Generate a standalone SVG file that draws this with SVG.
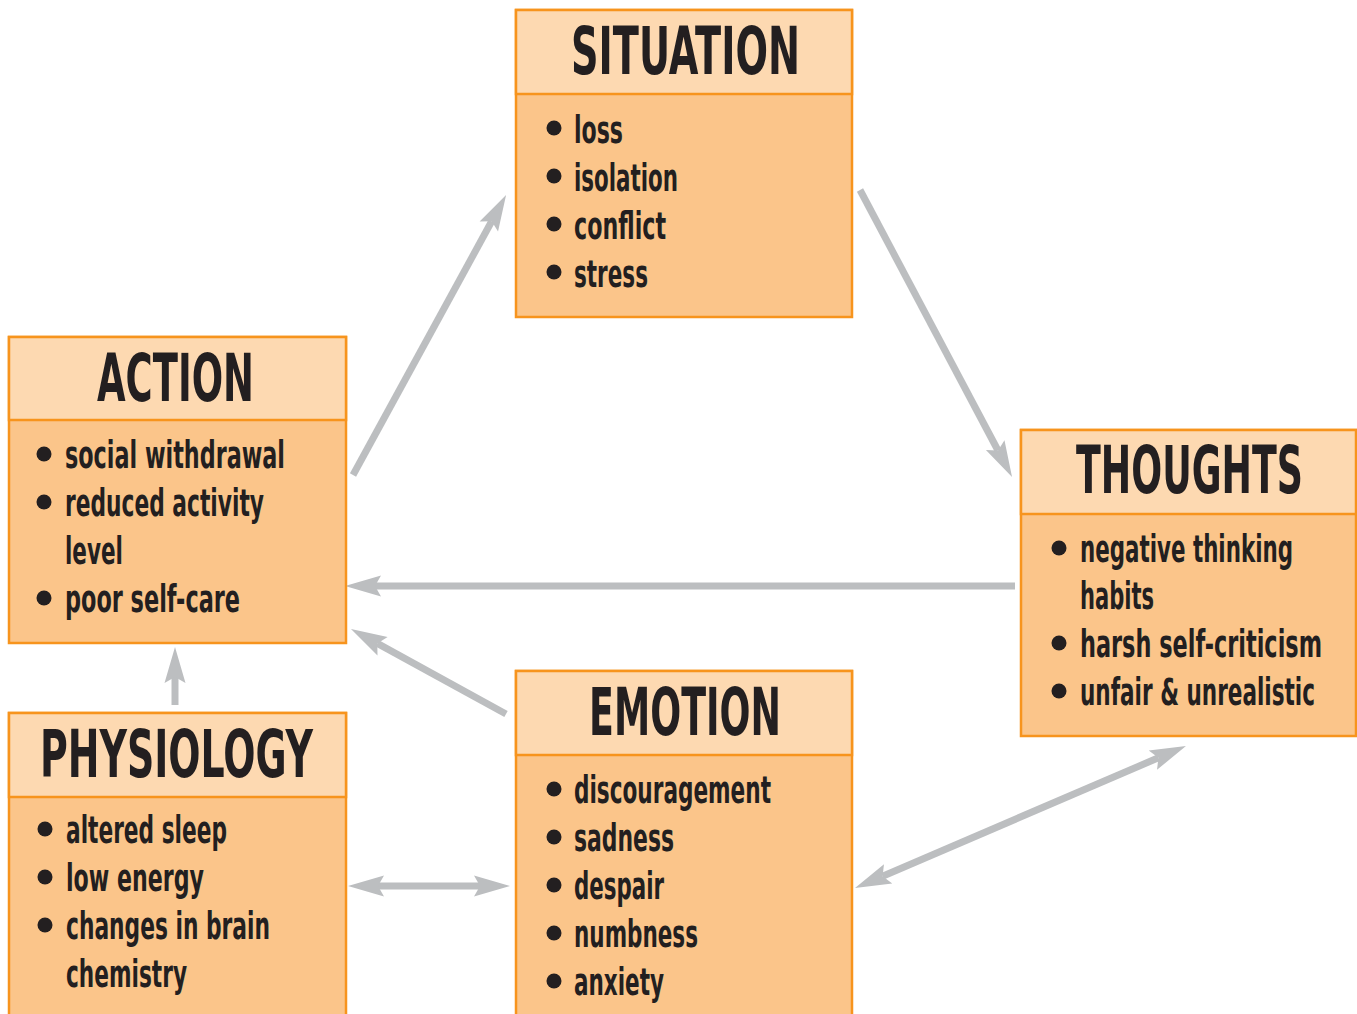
<svg xmlns="http://www.w3.org/2000/svg" width="1357" height="1014" viewBox="0 0 1357 1014">
<defs>
<style>
.box{fill:#FBC58A;stroke:#F7941D;stroke-width:2.5}
.hdr{fill:#FDD9B1;stroke:#F7941D;stroke-width:2.5}
.title{font-family:"DejaVu Sans Condensed","Liberation Sans Narrow","DejaVu Sans",sans-serif;font-weight:bold;font-size:66px;fill:#231F20}
.item{font-family:"DejaVu Sans Condensed","Liberation Sans Narrow","DejaVu Sans",sans-serif;font-weight:bold;font-size:37px;fill:#231F20}
.dot{fill:#231F20}
.conn{stroke:#BCBEC0;stroke-width:7;fill:none;marker-end:url(#ah)}
.both{marker-start:url(#ah2)}
</style>
<marker id="ah" markerUnits="userSpaceOnUse" viewBox="-8 -12 40 24" refX="0" refY="0" markerWidth="40" markerHeight="24" orient="auto" overflow="visible">
<path d="M30,0 L-6,-10.5 L0,0 L-6,10.5 Z" fill="#BCBEC0"/>
</marker>
<marker id="ah2" markerUnits="userSpaceOnUse" viewBox="-8 -12 40 24" refX="0" refY="0" markerWidth="40" markerHeight="24" orient="auto-start-reverse" overflow="visible">
<path d="M30,0 L-6,-10.5 L0,0 L-6,10.5 Z" fill="#BCBEC0"/>
</marker>
</defs>
<rect width="1357" height="1014" fill="#ffffff"/>

<g id="connectors">
<line class="conn" x1="353" y1="475" x2="491.7" y2="221.3"/>
<line class="conn" x1="860" y1="190" x2="998" y2="450.5"/>
<line class="conn" x1="1015" y1="586" x2="375" y2="586"/>
<line class="conn" x1="506" y1="714" x2="377.3" y2="643.4"/>
<line class="conn" x1="175" y1="705" x2="175" y2="677"/>
<line class="conn both" x1="378" y1="886" x2="480" y2="886"/>
<line class="conn both" x1="882.6" y1="876.2" x2="1158.4" y2="757.8"/>
</g>

<g id="situation">
<rect class="box" x="516" y="10" width="336" height="307"/>
<rect class="hdr" x="516" y="10" width="336" height="84"/>
<text class="title" x="571" y="74" textLength="229" lengthAdjust="spacingAndGlyphs">SITUATION</text>
<circle class="dot" cx="554" cy="128" r="7.5"/>
<text class="item" x="574" y="143" textLength="49" lengthAdjust="spacingAndGlyphs">loss</text>
<circle class="dot" cx="554" cy="176" r="7.5"/>
<text class="item" x="574" y="191" textLength="104" lengthAdjust="spacingAndGlyphs">isolation</text>
<circle class="dot" cx="554" cy="224" r="7.5"/>
<text class="item" x="574" y="239" textLength="92" lengthAdjust="spacingAndGlyphs">conflict</text>
<circle class="dot" cx="554" cy="272" r="7.5"/>
<text class="item" x="574" y="287" textLength="74" lengthAdjust="spacingAndGlyphs">stress</text>
</g>

<g id="action">
<rect class="box" x="9" y="337" width="337" height="306"/>
<rect class="hdr" x="9" y="337" width="337" height="83"/>
<text class="title" x="97" y="401" textLength="157" lengthAdjust="spacingAndGlyphs">ACTION</text>
<circle class="dot" cx="44" cy="454" r="7.5"/>
<text class="item" x="65" y="468" textLength="220" lengthAdjust="spacingAndGlyphs">social withdrawal</text>
<circle class="dot" cx="44" cy="502" r="7.5"/>
<text class="item" x="65" y="516" textLength="199" lengthAdjust="spacingAndGlyphs">reduced activity</text>
<text class="item" x="65" y="564" textLength="58" lengthAdjust="spacingAndGlyphs">level</text>
<circle class="dot" cx="44" cy="598" r="7.5"/>
<text class="item" x="65" y="612" textLength="175" lengthAdjust="spacingAndGlyphs">poor self-care</text>
</g>

<g id="thoughts">
<rect class="box" x="1021" y="430" width="335" height="306"/>
<rect class="hdr" x="1021" y="430" width="335" height="84"/>
<text class="title" x="1076" y="493" textLength="227" lengthAdjust="spacingAndGlyphs">THOUGHTS</text>
<circle class="dot" cx="1059" cy="548" r="7.5"/>
<text class="item" x="1080" y="562" textLength="213" lengthAdjust="spacingAndGlyphs">negative thinking</text>
<text class="item" x="1080" y="609" textLength="74" lengthAdjust="spacingAndGlyphs">habits</text>
<circle class="dot" cx="1059" cy="643" r="7.5"/>
<text class="item" x="1080" y="657" textLength="242" lengthAdjust="spacingAndGlyphs">harsh self-criticism</text>
<circle class="dot" cx="1059" cy="691" r="7.5"/>
<text class="item" x="1080" y="705" textLength="235" lengthAdjust="spacingAndGlyphs">unfair &amp; unrealistic</text>
</g>

<g id="emotion">
<rect class="box" x="516" y="671" width="336" height="360"/>
<rect class="hdr" x="516" y="671" width="336" height="84"/>
<text class="title" x="589" y="735" textLength="192" lengthAdjust="spacingAndGlyphs">EMOTION</text>
<circle class="dot" cx="554" cy="789" r="7.5"/>
<text class="item" x="574" y="803" textLength="197" lengthAdjust="spacingAndGlyphs">discouragement</text>
<circle class="dot" cx="554" cy="837" r="7.5"/>
<text class="item" x="574" y="851" textLength="100" lengthAdjust="spacingAndGlyphs">sadness</text>
<circle class="dot" cx="554" cy="885" r="7.5"/>
<text class="item" x="574" y="899" textLength="90" lengthAdjust="spacingAndGlyphs">despair</text>
<circle class="dot" cx="554" cy="933" r="7.5"/>
<text class="item" x="574" y="947" textLength="124" lengthAdjust="spacingAndGlyphs">numbness</text>
<circle class="dot" cx="554" cy="981" r="7.5"/>
<text class="item" x="574" y="995" textLength="90" lengthAdjust="spacingAndGlyphs">anxiety</text>
</g>

<g id="physiology">
<rect class="box" x="9" y="713" width="337" height="320"/>
<rect class="hdr" x="9" y="713" width="337" height="84"/>
<text class="title" x="40" y="777" textLength="273" lengthAdjust="spacingAndGlyphs">PHYSIOLOGY</text>
<circle class="dot" cx="45" cy="829" r="7.5"/>
<text class="item" x="66" y="843" textLength="161" lengthAdjust="spacingAndGlyphs">altered sleep</text>
<circle class="dot" cx="45" cy="877" r="7.5"/>
<text class="item" x="66" y="891" textLength="138" lengthAdjust="spacingAndGlyphs">low energy</text>
<circle class="dot" cx="45" cy="925" r="7.5"/>
<text class="item" x="66" y="939" textLength="204" lengthAdjust="spacingAndGlyphs">changes in brain</text>
<text class="item" x="66" y="987" textLength="121" lengthAdjust="spacingAndGlyphs">chemistry</text>
</g>
</svg>
